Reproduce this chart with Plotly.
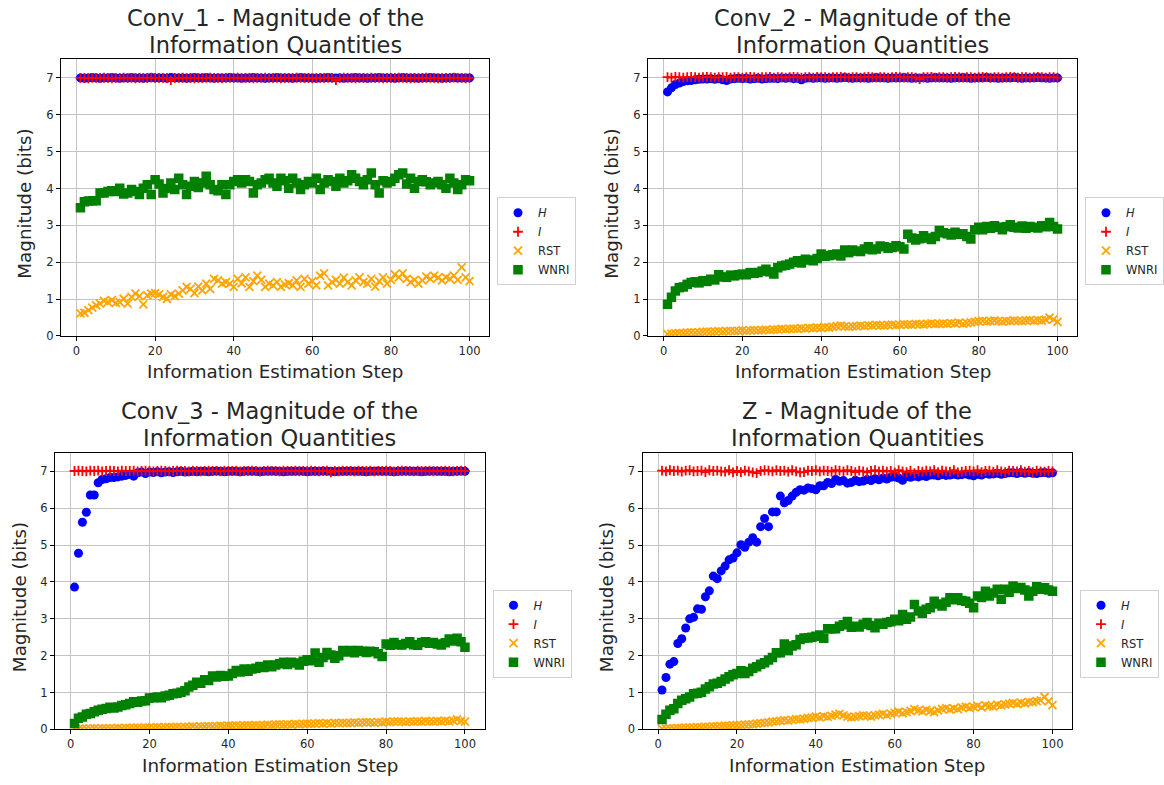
import plotly.graph_objects as go

W, H = 1164, 785
FONT = "DejaVu Sans"

steps = list(range(1, 101))
x_ticks = [0, 20, 40, 60, 80, 100]
y_ticks = [0, 1, 2, 3, 4, 5, 6, 7]

# ---------------- Conv_1 ----------------
conv1_H = [
    7.00, 6.99, 7.00, 7.01, 7.00, 6.99, 7.00, 7.00, 7.01, 7.00,
    6.99, 7.00, 7.00, 7.01, 7.00, 7.00, 6.99, 7.00, 7.01, 7.00,
    7.00, 7.00, 6.99, 7.01, 7.00, 7.00, 7.00, 6.99, 7.00, 7.01,
    7.00, 7.00, 7.01, 7.00, 6.99, 7.00, 7.00, 7.00, 7.01, 7.00,
    7.00, 6.99, 7.00, 7.00, 7.01, 7.00, 7.00, 6.99, 7.00, 7.00,
    7.01, 7.00, 7.00, 7.00, 6.99, 7.00, 7.01, 7.00, 7.00, 7.00,
    6.99, 7.00, 7.00, 7.01, 7.00, 7.00, 7.00, 6.99, 7.00, 7.00,
    7.01, 7.00, 7.00, 6.99, 7.00, 7.00, 7.01, 7.00, 7.00, 7.00,
    6.99, 7.00, 7.01, 7.00, 7.00, 7.00, 6.99, 7.00, 7.00, 7.01,
    7.00, 7.00, 6.99, 7.00, 7.00, 7.01, 7.00, 7.00, 7.00, 7.00,
]
conv1_I = [
    7.00, 7.00, 6.99, 7.00, 7.00, 7.00, 7.01, 7.00, 6.99, 7.00,
    7.00, 7.01, 7.00, 7.00, 6.99, 7.00, 7.00, 7.00, 7.01, 7.00,
    7.00, 7.00, 7.00, 6.94, 7.00, 7.00, 7.01, 7.00, 7.00, 6.99,
    7.00, 7.00, 7.00, 7.01, 7.00, 7.00, 6.99, 7.00, 7.00, 7.00,
    7.01, 7.00, 7.00, 7.00, 6.99, 7.00, 7.00, 7.01, 7.00, 7.00,
    7.00, 6.99, 7.00, 7.00, 7.00, 7.01, 7.00, 7.00, 7.00, 6.99,
    7.00, 7.00, 7.00, 7.00, 7.00, 6.94, 7.00, 7.01, 7.00, 7.00,
    6.99, 7.00, 7.00, 7.00, 7.01, 7.00, 7.00, 6.99, 7.00, 7.00,
    7.00, 7.01, 7.00, 7.00, 6.99, 7.00, 7.00, 7.00, 7.01, 7.00,
    7.00, 6.99, 7.00, 7.00, 7.00, 7.01, 7.00, 7.00, 6.99, 7.00,
]
conv1_RST = [
    0.61, 0.63, 0.70, 0.77, 0.83, 0.88, 0.95, 0.92, 0.97, 0.90,
    0.92, 1.01, 0.88, 1.06, 1.15, 1.08, 0.86, 1.10, 1.15, 1.16,
    1.13, 1.06, 1.01, 1.13, 1.08, 1.15, 1.24, 1.33, 1.28, 1.16,
    1.34, 1.24, 1.42, 1.28, 1.55, 1.51, 1.42, 1.46, 1.42, 1.33,
    1.55, 1.43, 1.59, 1.33, 1.49, 1.64, 1.52, 1.33, 1.42, 1.37,
    1.46, 1.33, 1.40, 1.43, 1.37, 1.51, 1.33, 1.55, 1.42, 1.49,
    1.37, 1.64, 1.70, 1.37, 1.46, 1.52, 1.42, 1.58, 1.46, 1.37,
    1.51, 1.59, 1.46, 1.42, 1.55, 1.34, 1.49, 1.59, 1.42, 1.52,
    1.67, 1.59, 1.70, 1.55, 1.46, 1.52, 1.42, 1.51, 1.61, 1.55,
    1.64, 1.58, 1.51, 1.59, 1.55, 1.64, 1.52, 1.86, 1.59, 1.49,
]
conv1_WNRI = [
    3.48, 3.64, 3.66, 3.67, 3.67, 3.88, 3.88, 3.92, 3.94, 3.92,
    4.01, 3.85, 3.88, 3.97, 3.92, 3.84, 4.01, 4.10, 3.84, 4.24,
    4.12, 3.88, 4.00, 4.15, 3.97, 4.28, 4.10, 3.84, 4.06, 4.19,
    4.03, 4.15, 4.33, 4.10, 3.97, 3.94, 4.10, 3.84, 4.10, 4.19,
    4.24, 4.15, 4.24, 4.19, 3.88, 4.10, 4.15, 4.24, 4.28, 4.15,
    4.06, 4.28, 4.21, 4.01, 4.28, 4.15, 3.97, 4.10, 4.19, 4.15,
    4.28, 3.97, 4.15, 4.24, 4.19, 4.06, 4.28, 4.15, 4.21, 4.37,
    4.28, 4.19, 4.10, 4.24, 4.42, 4.10, 3.88, 4.21, 4.15, 4.19,
    4.28, 4.37, 4.42, 4.12, 4.28, 4.01, 4.19, 4.24, 4.18, 4.10,
    4.15, 4.19, 4.10, 4.01, 4.28, 4.15, 3.97, 4.10, 4.24, 4.21,
]

# ---------------- Conv_2 ----------------
conv2_H = [
    6.62, 6.73, 6.82, 6.86, 6.90, 6.92, 6.93, 6.95, 6.96, 6.97,
    6.97, 6.98, 6.96, 6.98, 6.95, 6.93, 6.97, 6.98, 6.99, 6.98,
    6.99, 6.97, 6.98, 6.99, 6.97, 6.98, 6.99, 6.99, 6.98, 7.00,
    6.99, 7.00, 6.98, 6.99, 6.95, 6.99, 7.00, 6.99, 7.00, 7.00,
    6.99, 7.00, 7.00, 6.99, 7.00, 7.01, 7.00, 6.99, 7.00, 7.00,
    7.00, 6.99, 7.00, 7.01, 7.00, 7.00, 6.99, 7.00, 7.00, 7.00,
    7.01, 7.00, 6.99, 7.00, 7.00, 7.00, 6.99, 7.00, 7.01, 7.00,
    7.00, 7.00, 6.99, 7.00, 7.00, 7.01, 7.00, 6.99, 7.00, 7.00,
    7.00, 7.01, 7.00, 7.00, 6.99, 7.00, 7.00, 7.00, 7.01, 7.00,
    6.99, 7.00, 7.00, 7.00, 7.01, 7.00, 7.00, 6.99, 7.00, 7.00,
]
conv2_I = [
    7.02, 7.01, 7.03, 7.02, 7.01, 7.02, 7.03, 7.02, 7.01, 7.02,
    7.03, 7.02, 7.01, 7.02, 7.02, 7.03, 7.01, 7.02, 7.02, 7.01,
    7.02, 7.03, 7.02, 7.01, 7.02, 7.02, 7.03, 7.01, 7.02, 7.02,
    7.01, 7.02, 7.03, 7.02, 7.01, 7.02, 7.02, 7.01, 7.03, 7.02,
    7.02, 7.01, 7.02, 7.02, 7.03, 7.02, 7.01, 7.02, 7.02, 7.01,
    7.02, 7.03, 7.02, 7.01, 7.02, 7.02, 7.01, 7.02, 7.03, 7.02,
    7.01, 7.02, 7.02, 7.01, 6.97, 7.02, 7.02, 7.03, 7.01, 7.02,
    7.02, 7.01, 7.02, 7.03, 7.02, 7.01, 7.02, 7.02, 7.01, 7.02,
    7.03, 7.02, 7.01, 7.02, 7.02, 7.01, 7.02, 7.03, 7.02, 7.01,
    7.02, 7.02, 7.01, 7.02, 7.03, 7.02, 7.01, 7.02, 7.02, 7.01,
]
conv2_RST = [
    0.05, 0.06, 0.07, 0.08, 0.08, 0.09, 0.10, 0.09, 0.10, 0.11,
    0.12, 0.11, 0.12, 0.13, 0.12, 0.13, 0.14, 0.13, 0.14, 0.15,
    0.14, 0.15, 0.16, 0.15, 0.16, 0.17, 0.16, 0.17, 0.18, 0.19,
    0.18, 0.19, 0.20, 0.19, 0.21, 0.20, 0.22, 0.21, 0.23, 0.22,
    0.24, 0.23, 0.25, 0.27, 0.28, 0.26, 0.25, 0.26, 0.27, 0.28,
    0.27, 0.29, 0.28, 0.30, 0.29, 0.28, 0.30, 0.31, 0.29, 0.30,
    0.32, 0.31, 0.30, 0.33, 0.32, 0.31, 0.33, 0.34, 0.32, 0.33,
    0.34, 0.33, 0.35, 0.34, 0.36, 0.33, 0.35, 0.37, 0.38, 0.40,
    0.41, 0.39, 0.40, 0.42, 0.40, 0.39, 0.41, 0.40, 0.42, 0.41,
    0.40, 0.42, 0.43, 0.41, 0.43, 0.42, 0.44, 0.50, 0.45, 0.38,
]
conv2_WNRI = [
    0.86, 1.05, 1.22, 1.31, 1.33, 1.40, 1.45, 1.47, 1.44, 1.50,
    1.48, 1.54, 1.52, 1.66, 1.60, 1.59, 1.65, 1.63, 1.66, 1.68,
    1.66, 1.72, 1.70, 1.72, 1.76, 1.81, 1.74, 1.68, 1.85, 1.90,
    1.92, 1.95, 2.00, 2.04, 1.98, 2.08, 2.06, 2.04, 2.10, 2.22,
    2.16, 2.18, 2.20, 2.22, 2.17, 2.33, 2.26, 2.33, 2.30, 2.29,
    2.36, 2.42, 2.34, 2.36, 2.44, 2.42, 2.38, 2.40, 2.45, 2.42,
    2.36, 2.76, 2.66, 2.60, 2.64, 2.72, 2.66, 2.62, 2.70, 2.86,
    2.80, 2.77, 2.74, 2.81, 2.76, 2.77, 2.70, 2.63, 2.88, 2.95,
    2.88, 2.97, 2.92, 2.99, 2.95, 2.88, 2.96, 3.02, 2.95, 2.93,
    2.98, 2.92, 2.97, 2.95, 2.93, 2.99, 2.96, 3.08, 2.97, 2.90,
]

# ---------------- Conv_3 ----------------
conv3_H = [
    3.86, 4.78, 5.62, 5.89, 6.36, 6.36, 6.69, 6.78, 6.80, 6.83,
    6.83, 6.85, 6.87, 6.89, 6.92, 6.87, 6.96, 6.98, 6.94, 6.98,
    6.97, 6.99, 6.96, 6.98, 6.99, 6.97, 6.99, 7.00, 6.98, 6.99,
    7.00, 6.99, 7.00, 7.00, 6.99, 7.00, 7.01, 7.00, 6.99, 7.00,
    7.00, 7.00, 6.99, 7.00, 7.01, 7.00, 7.00, 6.99, 7.00, 7.00,
    7.01, 7.00, 7.00, 6.99, 7.00, 7.00, 7.00, 7.01, 7.00, 6.99,
    7.00, 7.00, 7.00, 7.01, 7.00, 7.00, 6.99, 7.00, 7.00, 7.00,
    7.01, 7.00, 7.00, 7.00, 6.99, 7.00, 7.00, 7.01, 7.00, 7.00,
    7.00, 6.99, 7.00, 7.00, 7.01, 7.00, 7.00, 7.00, 6.99, 7.00,
    7.00, 7.01, 7.00, 7.00, 7.00, 6.99, 7.00, 7.00, 7.01, 7.00,
]
conv3_I = [
    7.01, 7.02, 7.01, 7.00, 7.02, 7.01, 7.02, 7.00, 7.01, 7.02,
    7.01, 7.00, 7.02, 7.01, 7.01, 7.02, 7.00, 7.01, 7.02, 7.01,
    7.00, 7.01, 7.02, 7.01, 7.00, 7.01, 7.02, 7.01, 7.01, 7.00,
    7.02, 7.01, 7.00, 7.01, 7.02, 7.01, 7.01, 7.00, 7.02, 7.01,
    7.01, 7.02, 7.00, 7.01, 7.01, 7.02, 7.01, 7.00, 7.01, 7.02,
    7.01, 7.01, 7.00, 7.02, 7.01, 7.01, 7.02, 7.00, 7.01, 7.01,
    7.02, 7.01, 7.00, 7.01, 7.02, 6.97, 7.01, 7.00, 7.02, 7.01,
    7.01, 7.00, 7.02, 7.01, 7.01, 7.02, 7.00, 7.01, 7.01, 7.02,
    7.01, 7.00, 7.01, 7.02, 7.01, 7.01, 7.00, 7.02, 7.01, 7.01,
    7.02, 7.00, 7.01, 7.01, 7.02, 7.01, 7.00, 7.01, 7.02, 7.01,
]
conv3_RST = [
    0.01, 0.01, 0.02, 0.02, 0.02, 0.03, 0.02, 0.03, 0.03, 0.03,
    0.03, 0.04, 0.03, 0.04, 0.04, 0.04, 0.05, 0.04, 0.05, 0.05,
    0.05, 0.06, 0.05, 0.06, 0.06, 0.06, 0.07, 0.06, 0.07, 0.07,
    0.08, 0.07, 0.08, 0.08, 0.09, 0.08, 0.09, 0.10, 0.09, 0.10,
    0.10, 0.11, 0.10, 0.11, 0.12, 0.11, 0.12, 0.11, 0.12, 0.13,
    0.12, 0.13, 0.14, 0.13, 0.14, 0.13, 0.15, 0.14, 0.15, 0.16,
    0.15, 0.16, 0.17, 0.16, 0.17, 0.16, 0.18, 0.17, 0.18, 0.17,
    0.18, 0.19, 0.18, 0.19, 0.20, 0.19, 0.18, 0.20, 0.19, 0.21,
    0.20, 0.21, 0.22, 0.21, 0.20, 0.22, 0.21, 0.22, 0.21, 0.23,
    0.22, 0.21, 0.23, 0.22, 0.23, 0.22, 0.24, 0.27, 0.23, 0.21,
]
conv3_WNRI = [
    0.16, 0.30, 0.34, 0.41, 0.43, 0.48, 0.52, 0.55, 0.57, 0.60,
    0.58, 0.61, 0.65, 0.67, 0.70, 0.75, 0.74, 0.77, 0.78, 0.85,
    0.86, 0.88, 0.86, 0.91, 0.93, 0.97, 0.98, 1.01, 1.05, 1.15,
    1.20, 1.28, 1.25, 1.35, 1.33, 1.45, 1.42, 1.46, 1.44, 1.45,
    1.52, 1.60, 1.56, 1.64, 1.58, 1.64, 1.66, 1.71, 1.68, 1.75,
    1.70, 1.75, 1.78, 1.82, 1.76, 1.82, 1.80, 1.75, 1.85, 1.89,
    1.86, 2.07, 1.82, 1.95, 2.09, 2.02, 1.93, 2.00, 2.14, 2.10,
    2.14, 2.08, 2.14, 2.12, 2.09, 2.12, 2.11, 2.05, 1.98, 2.32,
    2.28, 2.36, 2.30, 2.29, 2.33, 2.38, 2.30, 2.28, 2.36, 2.38,
    2.34, 2.36, 2.32, 2.29, 2.35, 2.45, 2.40, 2.47, 2.38, 2.23,
]

# ---------------- Z ----------------
z_H = [
    1.07, 1.41, 1.77, 1.84, 2.33, 2.46, 2.75, 3.00, 3.04, 3.27,
    3.26, 3.60, 3.76, 4.16, 4.09, 4.30, 4.43, 4.60, 4.65, 4.79,
    5.01, 4.94, 5.08, 5.20, 5.08, 5.50, 5.72, 5.50, 5.90, 5.90,
    6.33, 6.15, 6.21, 6.33, 6.43, 6.50, 6.49, 6.55, 6.53, 6.50,
    6.61, 6.61, 6.70, 6.67, 6.78, 6.73, 6.75, 6.68, 6.70, 6.76,
    6.72, 6.74, 6.78, 6.75, 6.80, 6.77, 6.82, 6.79, 6.84, 6.85,
    6.82, 6.76, 6.86, 6.84, 6.87, 6.85, 6.88, 6.86, 6.90, 6.90,
    6.88, 6.91, 6.89, 6.90, 6.92, 6.90, 6.91, 6.93, 6.90, 6.88,
    6.92, 6.90, 6.94, 6.92, 6.93, 6.95, 6.92, 6.94, 6.96, 6.96,
    6.94, 6.97, 6.95, 6.97, 6.95, 6.94, 6.96, 6.97, 6.95, 6.96,
]
z_I = [
    7.02, 7.00, 7.03, 7.01, 7.02, 6.99, 7.02, 7.03, 7.00, 7.01,
    7.02, 6.98, 7.03, 7.01, 7.02, 7.00, 6.99, 7.03, 6.97, 7.01,
    6.98, 7.02, 7.00, 6.97, 6.95, 7.01, 7.03, 7.02, 7.00, 7.03,
    7.01, 7.02, 6.99, 7.03, 7.00, 6.97, 6.98, 7.02, 7.01, 7.03,
    7.00, 7.02, 7.01, 6.99, 7.03, 7.02, 7.00, 7.03, 7.01, 6.98,
    7.02, 7.00, 6.97, 7.01, 7.03, 7.00, 7.02, 6.99, 7.01, 6.97,
    7.03, 7.00, 6.98, 7.02, 6.95, 7.01, 6.99, 7.02, 7.00, 7.03,
    6.98, 7.02, 7.00, 6.99, 7.03, 6.97, 6.99, 7.01, 7.02, 7.00,
    7.03, 6.98, 7.01, 7.02, 6.99, 7.03, 7.00, 6.98, 7.02, 7.01,
    7.00, 7.03, 6.99, 7.01, 6.98, 7.02, 7.00, 6.99, 7.01, 7.00,
]
z_RST = [
    0.02, 0.02, 0.03, 0.03, 0.04, 0.04, 0.05, 0.05, 0.05, 0.06,
    0.06, 0.07, 0.07, 0.08, 0.08, 0.09, 0.10, 0.10, 0.11, 0.12,
    0.12, 0.13, 0.14, 0.14, 0.16, 0.17, 0.18, 0.19, 0.21, 0.22,
    0.23, 0.25, 0.24, 0.26, 0.28, 0.27, 0.29, 0.31, 0.32, 0.35,
    0.33, 0.36, 0.34, 0.37, 0.40, 0.42, 0.38, 0.35, 0.33, 0.34,
    0.36, 0.38, 0.37, 0.35, 0.38, 0.40, 0.42, 0.39, 0.43, 0.45,
    0.48, 0.44, 0.47, 0.50, 0.55, 0.52, 0.49, 0.53, 0.50, 0.47,
    0.52, 0.56, 0.58, 0.54, 0.57, 0.55, 0.60, 0.62, 0.58, 0.61,
    0.64, 0.60, 0.66, 0.63, 0.62, 0.67, 0.65, 0.68, 0.70, 0.72,
    0.69, 0.73, 0.71, 0.75, 0.74, 0.77, 0.79, 0.88, 0.76, 0.66,
]
z_WNRI = [
    0.27, 0.41, 0.52, 0.56, 0.70, 0.79, 0.83, 0.88, 0.97, 0.98,
    1.01, 1.10, 1.16, 1.23, 1.25, 1.30, 1.37, 1.43, 1.48, 1.52,
    1.59, 1.52, 1.57, 1.66, 1.70, 1.77, 1.81, 1.88, 1.95, 2.08,
    2.08, 2.32, 2.14, 2.26, 2.30, 2.44, 2.48, 2.48, 2.50, 2.53,
    2.56, 2.47, 2.73, 2.73, 2.73, 2.80, 2.84, 2.93, 2.77, 2.80,
    2.78, 2.85, 2.90, 2.82, 2.76, 2.88, 2.85, 2.90, 2.92, 2.99,
    2.95, 3.12, 2.99, 3.05, 3.39, 3.21, 3.15, 3.26, 3.30, 3.48,
    3.40, 3.35, 3.45, 3.57, 3.52, 3.57, 3.50, 3.48, 3.42, 3.30,
    3.62, 3.58, 3.75, 3.62, 3.70, 3.80, 3.53, 3.80, 3.72, 3.89,
    3.82, 3.85, 3.78, 3.62, 3.75, 3.87, 3.80, 3.84, 3.78, 3.75,
]

panel_names = ["Conv_1", "Conv_2", "Conv_3", "Z"]
series_H = [conv1_H, conv2_H, conv3_H, z_H]
series_I = [conv1_I, conv2_I, conv3_I, z_I]
series_RST = [conv1_RST, conv2_RST, conv3_RST, z_RST]
series_WNRI = [conv1_WNRI, conv2_WNRI, conv3_WNRI, z_WNRI]

# plot-area boxes in pixels (left, top, right, bottom)
boxes = [
    (61, 60, 489, 339),
    (648, 60, 1077, 339),
    (55, 457, 484.5, 736),
    (642.5, 457, 1072, 736),
]
# legend top-left corners in pixels
legend_pos = [(497, 199), (1085, 199), (492.5, 595), (1080, 595)]
ylabel_x = [25, 612, 19, 606]


def px(x):
    return x / W


def py(y):
    return 1 - y / H


fig = go.Figure()
annotations = []
layout = {}

for k in range(4):
    ax = "" if k == 0 else str(k + 1)
    xa, ya = "x" + ax, "y" + ax
    leg = "legend" + ax
    l, t, r, b = boxes[k]

    fig.add_trace(go.Scatter(
        x=steps, y=series_H[k], mode="markers", name="<i>H</i>",
        xaxis=xa, yaxis=ya, legend=leg,
        marker=dict(symbol="circle", size=9, color="#0000ff", line=dict(width=0)),
    ))
    fig.add_trace(go.Scatter(
        x=steps, y=series_I[k], mode="markers", name="<i>I</i>",
        xaxis=xa, yaxis=ya, legend=leg,
        marker=dict(symbol="cross-thin", size=7, color="#ff0000",
                    line=dict(width=1.8, color="#ff0000")),
    ))
    fig.add_trace(go.Scatter(
        x=steps, y=series_RST[k], mode="markers", name="RST",
        xaxis=xa, yaxis=ya, legend=leg,
        marker=dict(symbol="x-thin", size=8, color="#ffa500",
                    line=dict(width=1.8, color="#ffa500")),
    ))
    fig.add_trace(go.Scatter(
        x=steps, y=series_WNRI[k], mode="markers", name="WNRI",
        xaxis=xa, yaxis=ya, legend=leg,
        marker=dict(symbol="square", size=9.5, color="#008000", line=dict(width=0)),
    ))

    common = dict(
        showline=True, linecolor="black", linewidth=1, mirror=True,
        showgrid=True, gridcolor="#c4c4c4", gridwidth=1, zeroline=False,
        ticks="outside", ticklen=4, tickwidth=1, tickcolor="black",
        tickfont=dict(family=FONT, size=11.5, color="#262626"),
    )
    layout["xaxis" + ax] = dict(
        common, domain=[px(l), px(r)], anchor=ya, range=[-3.95, 104.95],
        tickmode="array", tickvals=x_ticks,
    )
    layout["yaxis" + ax] = dict(
        common, domain=[py(b), py(t)], anchor=xa, range=[0, 7.5],
        tickmode="array", tickvals=y_ticks,
    )
    lx, ly = legend_pos[k]
    layout[leg] = dict(
        x=px(lx), y=py(ly), xanchor="left", yanchor="top",
        bgcolor="rgba(255,255,255,0.9)", bordercolor="#d0d0d0", borderwidth=1,
        font=dict(family=FONT, size=11.5, color="#262626"), itemwidth=30,
    )

    cx = (l + r) / 2
    for text, yy in ((f"{panel_names[k]} - Magnitude of the", t - 42),
                     ("Information Quantities", t - 15)):
        annotations.append(dict(
            text=text, x=px(cx), y=py(yy), xref="paper", yref="paper",
            xanchor="center", yanchor="middle", showarrow=False,
            font=dict(family=FONT, size=22.5, color="#262626"),
        ))
    annotations.append(dict(
        text="Information Estimation Step", x=px(cx), y=py(b + 36),
        xref="paper", yref="paper", xanchor="center", yanchor="middle",
        showarrow=False, font=dict(family=FONT, size=18.3, color="#262626"),
    ))
    annotations.append(dict(
        text="Magnitude (bits)", x=px(ylabel_x[k]), y=py((t + b) / 2 + 6),
        xref="paper", yref="paper", xanchor="center", yanchor="middle",
        textangle=-90, showarrow=False,
        font=dict(family=FONT, size=18.3, color="#262626"),
    ))

fig.update_layout(
    width=W, height=H, margin=dict(l=0, r=0, t=0, b=0),
    paper_bgcolor="white", plot_bgcolor="white",
    annotations=annotations, **layout,
)

fig.write_html("out.html")
